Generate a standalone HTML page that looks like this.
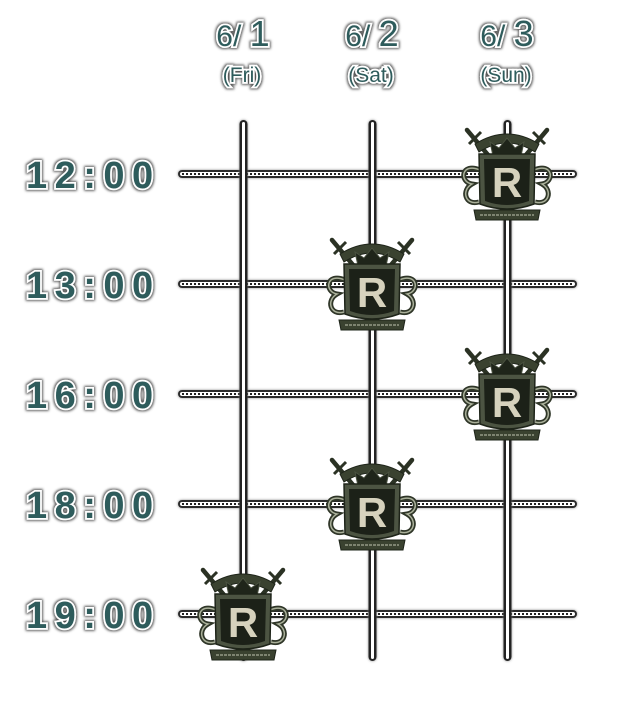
<!DOCTYPE html>
<html><head><meta charset="utf-8"><style>
html,body{margin:0;padding:0;background:#fff;width:634px;height:708px;overflow:hidden}
svg{display:block}
.t{font-family:"Liberation Sans",sans-serif;font-weight:bold;fill:#2f5b5b;stroke:#fff;stroke-width:3.5;paint-order:stroke;filter:url(#gl)}
.d{font-family:"Liberation Sans",sans-serif;fill:#2f5b5b;stroke:#fff;stroke-width:3.5;paint-order:stroke;filter:url(#gl)}
.r{font-family:"Liberation Sans",sans-serif;font-weight:bold;font-size:42px;fill:#d6d2bd}
</style></head><body>
<svg width="634" height="708" viewBox="0 0 634 708" xmlns="http://www.w3.org/2000/svg">
<defs>
<filter id="gl" x="-20%" y="-30%" width="140%" height="160%"><feMorphology in="SourceAlpha" operator="dilate" radius="1.2" result="d"/><feGaussianBlur in="d" stdDeviation="1.3" result="b"/><feFlood flood-color="#555"/><feComposite in2="b" operator="in" result="s"/><feMerge><feMergeNode in="s"/><feMergeNode in="SourceGraphic"/></feMerge></filter>
<filter id="sh" x="-5%" y="-5%" width="110%" height="110%"><feGaussianBlur in="SourceAlpha" stdDeviation="1.2" result="b"/><feFlood flood-color="#888"/><feComposite in2="b" operator="in" result="s"/><feMerge><feMergeNode in="s"/><feMergeNode in="SourceGraphic"/></feMerge></filter>
<g id="em">
 <g stroke="#2b3224" stroke-width="4.5" stroke-linecap="round">
  <line x1="-40" y1="-44" x2="-8" y2="-6"/><line x1="40" y1="-44" x2="8" y2="-6"/>
 </g>
 <g stroke="#2b3224" stroke-width="3"><line x1="-38" y1="-30" x2="-26" y2="-42"/><line x1="38" y1="-30" x2="26" y2="-42"/></g>
 <path d="M-32,-30 Q0,-50 32,-30 L28,-22 Q0,-40 -28,-22Z" fill="#3a4230" stroke="#1e2419" stroke-width="1"/>
 <g fill="none" stroke="#2f3628" stroke-width="5">
  <path d="M-27,-4 C-46,-12 -48,8 -35,10 C-46,16 -42,32 -28,28"/>
  <path d="M27,-4 C46,-12 48,8 35,10 C46,16 42,32 28,28"/>
 </g>
 <g fill="none" stroke="#aab09a" stroke-width="1.5">
  <path d="M-27,-4 C-46,-12 -48,8 -35,10 C-46,16 -42,32 -28,28"/>
  <path d="M27,-4 C46,-12 48,8 35,10 C46,16 42,32 28,28"/>
 </g>
 <path d="M-14,-18 L-17,-32 L-8,-26 L0,-36 L8,-26 L17,-32 L14,-18Z" fill="#1f251a" stroke="#4a5240" stroke-width="1"/>
 <path d="M-28,-20 L28,-20 L27,30 Q0,40 -27,30Z" fill="#4c5442" stroke="#1e2419" stroke-width="1.5"/>
 <path d="M-23,-15 L23,-15 L22,27 Q0,35 -22,27Z" fill="#1c2118"/>
 <path d="M-33,36 L33,36 L31,46 L-31,46Z" fill="#3a4230" stroke="#1e2419" stroke-width="1"/>
 <g stroke="#a8ad98" stroke-width="1.2"><line x1="-27" y1="41" x2="27" y2="41" stroke-dasharray="3 1"/></g>
</g>
</defs>
<g filter="url(#sh)">
<g id="hl">
 <rect x="178" y="170" width="399" height="8" rx="4" fill="#2a2a2a"/>
 <rect x="180" y="172" width="395" height="4" rx="2" fill="#fff"/>
 <line x1="182" y1="174" x2="573" y2="174" stroke="#222" stroke-width="2" stroke-dasharray="2 2"/>
</g>
<use href="#hl" y="110"/><use href="#hl" y="220"/><use href="#hl" y="330"/><use href="#hl" y="440"/>
</g>
<g filter="url(#sh)">
<g id="vl">
 <rect x="239.5" y="120" width="8" height="541" rx="4" fill="#222"/>
 <rect x="242" y="122" width="3" height="537" rx="1.5" fill="#fff"/>
</g>
<use href="#vl" x="129"/><use href="#vl" x="264"/>
</g>
<g transform="translate(507,174)"><use href="#em"/><text class="r" x="0" y="23" text-anchor="middle">R</text></g>
<g transform="translate(372,284)"><use href="#em"/><text class="r" x="0" y="23" text-anchor="middle">R</text></g>
<g transform="translate(507,394)"><use href="#em"/><text class="r" x="0" y="23" text-anchor="middle">R</text></g>
<g transform="translate(372,504)"><use href="#em"/><text class="r" x="0" y="23" text-anchor="middle">R</text></g>
<g transform="translate(243,614)"><use href="#em"/><text class="r" x="0" y="23" text-anchor="middle">R</text></g>
<g class="t" font-size="38" letter-spacing="7.5">
<text x="26" y="188">12:00</text>
<text x="26" y="298">13:00</text>
<text x="26" y="408">16:00</text>
<text x="26" y="518">18:00</text>
<text x="26" y="628">19:00</text>
</g>
<g class="d" text-anchor="middle">
<text x="243" y="46" font-size="30">6/ <tspan font-size="36">1</tspan></text>
<text x="372" y="46" font-size="30">6/ <tspan font-size="36">2</tspan></text>
<text x="507" y="46" font-size="30">6/ <tspan font-size="36">3</tspan></text>
<text x="242" y="82" font-size="21">(Fri)</text>
<text x="371" y="82" font-size="21">(Sat)</text>
<text x="506" y="82" font-size="21">(Sun)</text>
</g>
</svg>
</body></html>
